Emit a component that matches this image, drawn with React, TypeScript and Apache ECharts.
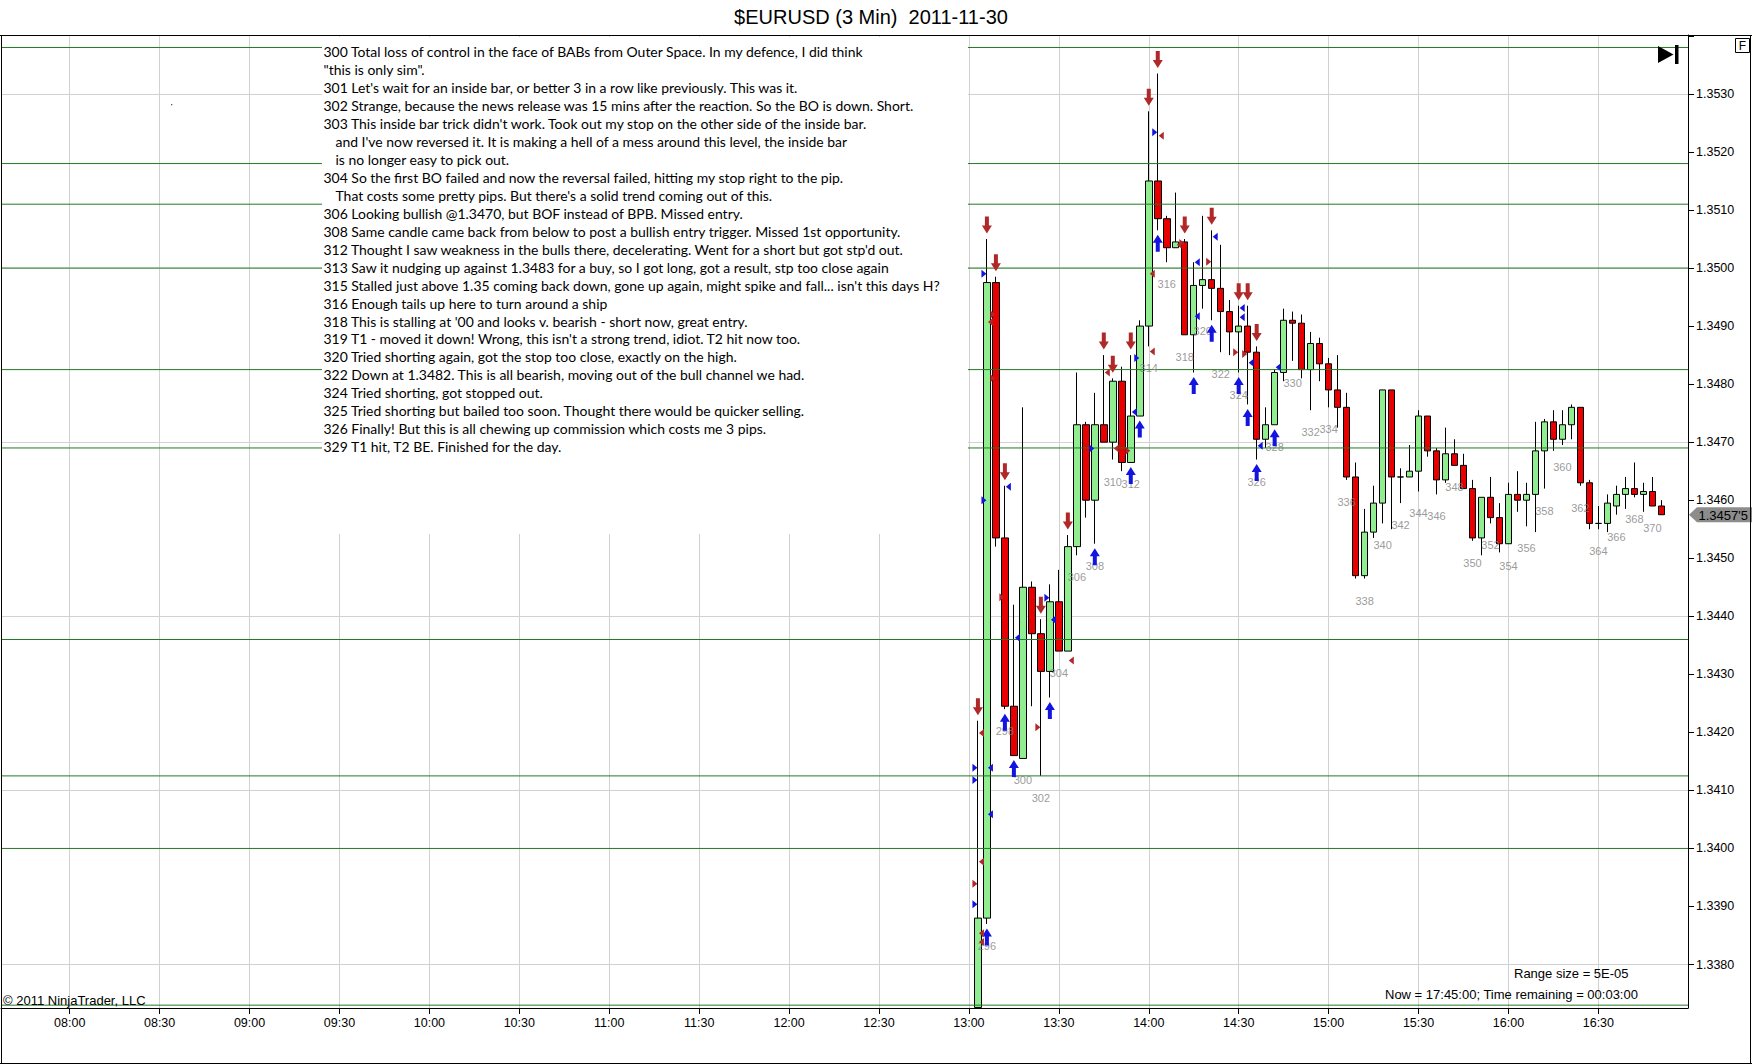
import React, { useEffect, useRef } from "react";
import * as echarts from "echarts";

// ---------- DATA ----------
const barNumbers = [
  295, 296, 297, 298, 299, 300, 301, 302, 303, 304, 305, 306, 307, 308, 309, 310, 311, 312, 313, 314,
  315, 316, 317, 318, 319, 320, 321, 322, 323, 324, 325, 326, 327, 328, 329, 330, 331, 332, 333, 334,
  335, 336, 337, 338, 339, 340, 341, 342, 343, 344, 345, 346, 347, 348, 349, 350, 351, 352, 353, 354,
  355, 356, 357, 358, 359, 360, 361, 362, 363, 364, 365, 366, 367, 368, 369, 370, 371,
];
const barTimes = [
  "13:03", "13:06", "13:09", "13:12", "13:15", "13:18", "13:21", "13:24", "13:27", "13:30",
  "13:33", "13:36", "13:39", "13:42", "13:45", "13:48", "13:51", "13:54", "13:57", "14:00",
  "14:03", "14:06", "14:09", "14:12", "14:15", "14:18", "14:21", "14:24", "14:27", "14:30",
  "14:33", "14:36", "14:39", "14:42", "14:45", "14:48", "14:51", "14:54", "14:57", "15:00",
  "15:03", "15:06", "15:09", "15:12", "15:15", "15:18", "15:21", "15:24", "15:27", "15:30",
  "15:33", "15:36", "15:39", "15:42", "15:45", "15:48", "15:51", "15:54", "15:57", "16:00",
  "16:03", "16:06", "16:09", "16:12", "16:15", "16:18", "16:21", "16:24", "16:27", "16:30",
  "16:33", "16:36", "16:39", "16:42", "16:45", "16:48", "16:51",
];
// the first bar opens below the visible range; its open/low are set at the visible bottom
const opens = [
  1.33726, 1.3388, 1.34975, 1.34535, 1.34245, 1.34155, 1.3445, 1.3437, 1.34305, 1.34425,
  1.3434, 1.3452, 1.3473, 1.346, 1.3473, 1.347, 1.34805, 1.34665, 1.34745, 1.349,
  1.3515, 1.35085, 1.35035, 1.35045, 1.34885, 1.3497, 1.3498, 1.34965, 1.34925, 1.3489,
  1.349, 1.34855, 1.34705, 1.3473, 1.3482, 1.3491, 1.34905, 1.34825, 1.3487, 1.34835,
  1.3479, 1.3476, 1.3464, 1.3447, 1.34545, 1.34595, 1.3479, 1.3464, 1.3464, 1.3465,
  1.34745, 1.34685, 1.34635, 1.3468, 1.3466, 1.3462, 1.34535, 1.34605, 1.3457, 1.34525,
  1.3461, 1.346, 1.3461, 1.34685, 1.34735, 1.34705, 1.3473, 1.3476, 1.3463, 1.3456,
  1.3456, 1.3459, 1.3461, 1.3462, 1.3461, 1.34615, 1.3459,
];
const highs = [
  1.3422, 1.3505, 1.34985, 1.34625, 1.3442, 1.3476, 1.3446, 1.34395, 1.34455, 1.3448,
  1.3454, 1.3482, 1.34735, 1.34785, 1.3485, 1.3481, 1.3483, 1.3485, 1.3491, 1.3527,
  1.35335, 1.3509, 1.3513, 1.3505, 1.3501, 1.3509, 1.35065, 1.3504, 1.34945, 1.34935,
  1.34935, 1.34865, 1.3476, 1.34825, 1.3493, 1.34925, 1.3492, 1.3489, 1.3488, 1.34845,
  1.3485, 1.34785, 1.34665, 1.34585, 1.34625, 1.3479, 1.3479, 1.34655, 1.34695, 1.34755,
  1.34745, 1.3469, 1.34725, 1.34705, 1.3468, 1.34635, 1.34605, 1.3464, 1.34595, 1.3463,
  1.3465, 1.3463, 1.34735, 1.3474, 1.34755, 1.34755, 1.34765, 1.3476, 1.34635, 1.3459,
  1.3461, 1.34625, 1.3464, 1.34665, 1.3463, 1.3464, 1.346,
];
const lows = [
  1.33726, 1.3387, 1.3452, 1.3424, 1.3416, 1.34155, 1.34245, 1.34125, 1.3426, 1.3434,
  1.3434, 1.34505, 1.3457, 1.34525, 1.347, 1.3467, 1.3465, 1.34665, 1.34745, 1.34865,
  1.35065, 1.3501, 1.35035, 1.34885, 1.3482, 1.3493, 1.3491, 1.34855, 1.3485, 1.3482,
  1.34765, 1.3467, 1.3469, 1.3473, 1.34805, 1.3484, 1.3481, 1.34755, 1.34805, 1.3476,
  1.34725, 1.34635, 1.34465, 1.34465, 1.34535, 1.3456, 1.3455, 1.34595, 1.3464, 1.34615,
  1.34675, 1.3461, 1.3463, 1.3466, 1.3462, 1.3453, 1.34505, 1.3456, 1.3451, 1.34525,
  1.3458, 1.34555, 1.34545, 1.3462, 1.34685, 1.34695, 1.34705, 1.34625, 1.3455, 1.3455,
  1.34545, 1.34575, 1.34585, 1.34605, 1.3458, 1.3459, 1.34575,
];
const closes = [
  1.3388, 1.34975, 1.34535, 1.34245, 1.3416, 1.3445, 1.3437, 1.34305, 1.34425, 1.3434,
  1.3452, 1.3473, 1.346, 1.3473, 1.347, 1.34805, 1.34665, 1.34745, 1.349, 1.3515,
  1.35085, 1.35035, 1.35045, 1.34885, 1.3497, 1.3498, 1.34965, 1.34925, 1.3489, 1.349,
  1.34855, 1.34705, 1.3473, 1.3482, 1.3491, 1.34905, 1.34825, 1.3487, 1.34835, 1.3479,
  1.3476, 1.3464, 1.3447, 1.34545, 1.34595, 1.3479, 1.3464, 1.3464, 1.3465, 1.34745,
  1.34685, 1.34635, 1.3468, 1.3466, 1.3462, 1.34535, 1.34605, 1.3457, 1.34525, 1.3461,
  1.346, 1.3461, 1.34685, 1.34735, 1.34705, 1.3473, 1.3476, 1.3463, 1.3456, 1.3456,
  1.34595, 1.3461, 1.3462, 1.3461, 1.34615, 1.3459, 1.34575,
];

// horizontal lines drawn on the chart
const levelLines = [1.3538, 1.3518, 1.3511, 1.35, 1.34825, 1.3469, 1.3436, 1.34125, 1.34, 1.3373];

// signal arrows
const redArrowBars = [295, 296, 297, 298, 302, 305, 309, 310, 312, 314, 315, 318, 321, 324, 325, 326];
const blueArrowBars = [296, 298, 299, 303, 308, 312, 313, 315, 319, 321, 324, 325, 326, 328];

// execution markers [bar, price]
const blueRightMarks = [
  [296, 1.3499], [296, 1.346], [295, 1.34139], [295, 1.34118], [295, 1.33904],
  [303, 1.34432], [308, 1.34689], [313, 1.34845], [315, 1.35234],
];
const blueLeftMarks = [
  [296, 1.34139], [296, 1.34059], [298, 1.34623], [299, 1.34363], [303, 1.34394],
  [312, 1.34752], [319, 1.3501], [319, 1.34917], [321, 1.35054], [324, 1.34931],
  [324, 1.34915], [325, 1.34837], [326, 1.34694], [328, 1.34829],
];
const redRightMarks = [
  [297, 1.3492], [297, 1.3481], [295, 1.33939], [298, 1.34433], [302, 1.34209],
  [312, 1.34685], [318, 1.35043], [321, 1.35011], [324, 1.34855], [325, 1.34852],
];
const redLeftMarks = [
  [295, 1.34199], [295, 1.33977], [295, 1.33854], [295, 1.33839], [296, 1.34907],
  [305, 1.34324], [309, 1.3482], [310, 1.34689], [314, 1.34856], [314, 1.3499],
  [315, 1.35228], [317, 1.3504],
];

// bars carrying a number label
const labelledBars = [
  296, 298, 300, 302, 304, 306, 308, 310, 312, 314, 316, 318, 320, 322, 324, 326, 328, 330, 332,
  334, 336, 338, 340, 342, 344, 346, 348, 350, 352, 354, 356, 358, 360, 362, 364, 366, 368, 370,
];

const noteLines = [
  "300 Total loss of control in the face of BABs from Outer Space. In my defence, I did think",
  "\"this is only sim\".",
  "301 Let's wait for an inside bar, or better 3 in a row like previously. This was it.",
  "302 Strange, because the news release was 15 mins after the reaction. So the BO is down. Short.",
  "303 This inside bar trick didn't work. Took out my stop on the other side of the inside bar.",
  "and I've now reversed it. It is making a hell of a mess around this level, the inside bar",
  "is no longer easy to pick out.",
  "304 So the first BO failed and now the reversal failed, hitting my stop right to the pip.",
  "That costs some pretty pips. But there's a solid trend coming out of this.",
  "306 Looking bullish @1.3470, but BOF instead of BPB. Missed entry.",
  "308 Same candle came back from below to post a bullish entry trigger. Missed 1st opportunity.",
  "312 Thought I saw weakness in the bulls there, decelerating. Went for a short but got stp'd out.",
  "313 Saw it nudging up against 1.3483 for a buy, so I got long, got a result, stp too close again",
  "315 Stalled just above 1.35 coming back down, gone up again, might spike and fall... isn't this days H?",
  "316 Enough tails up here to turn around a ship",
  "318 This is stalling at '00 and looks v. bearish - short now, great entry.",
  "319 T1 - moved it down! Wrong, this isn't a strong trend, idiot. T2 hit now too.",
  "320 Tried shorting again, got the stop too close, exactly on the high.",
  "322 Down at 1.3482. This is all bearish, moving out of the bull channel we had.",
  "324 Tried shorting, got stopped out.",
  "325 Tried shorting but bailed too soon. Thought there would be quicker selling.",
  "326 Finally! But this is all chewing up commission which costs me 3 pips.",
  "329 T1 hit, T2 BE. Finished for the day.",
];
const indentedNotes = [5, 6, 8];

const titleText = "$EURUSD (3 Min)  2011-11-30";
const copyrightText = "\u00a9 2011 NinjaTrader, LLC";
const rangeText = "Range size = 5E-05";
const nowText = "Now = 17:45:00; Time remaining = 00:03:00";
const lastPriceText = "1.3457'5";

// ---------- HELPERS ----------
const toMin = (s: string) => {
  const [h, m] = s.split(":").map(Number);
  return h * 60 + m;
};
const pad = (n: number) => (n < 10 ? "0" + n : "" + n);
const barIdx = (b: number) => barNumbers.indexOf(b);
const barT = (b: number) => toMin(barTimes[barIdx(b)]);

const ARROW_DOWN = "path://M3,0L7,0L7,9L10,9L5,17L0,9L3,9Z";
const ARROW_UP = "path://M5,0L10,8L7,8L7,17L3,17L3,8L0,8Z";
const TRI_R = "path://M0,0L6,4L0,8Z";
const TRI_L = "path://M6,0L0,4L6,8Z";

const AXIS_FONT = "'Liberation Sans', Arial, sans-serif";
const RED_MARK = "#B02828";
const BLUE_MARK = "#1414E0";
const X_MIN = 457.08;
const X_MAX = 1019.9;

export default function App() {
  const ref = useRef<HTMLDivElement>(null);

  useEffect(() => {
    document.body.style.margin = "0";
    if (!ref.current) return;
    const chart = echarts.init(ref.current, undefined, { renderer: "svg" });

    const candleData = barTimes.map((t, i) => [toMin(t), opens[i], closes[i], lows[i], highs[i]]);
    const scatterBase = {
      type: "scatter" as const,
      silent: true,
      animation: false,
      clip: false,
      xAxisIndex: 0,
      yAxisIndex: 0,
    };
    const markSeries = (marks: number[][], symbol: string, color: string, dx: number) => ({
      ...scatterBase,
      symbol,
      symbolSize: [5, 8],
      symbolOffset: [dx, 0],
      itemStyle: { color, opacity: 1 },
      z: 6,
      data: marks.map(([b, p]) => [barT(b), p]),
    });

    const yMin = 1.337251;
    const yMax = 1.354015;

    const levelSeries = levelLines.map((v) => ({
      type: "line" as const,
      silent: true,
      animation: false,
      xAxisIndex: 0,
      yAxisIndex: 0,
      symbol: "none",
      z: 4,
      lineStyle: { color: "#237A23", width: 1 },
      data: [
        [X_MIN, v],
        [X_MAX, v],
      ],
    }));

    chart.setOption({
      animation: false,
      backgroundColor: "#ffffff",
      grid: { left: 1, right: 64, top: 35, bottom: 56, containLabel: false },
      xAxis: {
        type: "value",
        min: X_MIN,
        max: X_MAX,
        minInterval: 30,
        maxInterval: 30,
        splitNumber: 19,
        axisLine: { show: true, onZero: false, lineStyle: { color: "#000", width: 1 } },
        axisTick: { show: true, length: 6, lineStyle: { color: "#000" } },
        axisLabel: {
          color: "#000",
          fontSize: 12.5,
          fontFamily: AXIS_FONT,
          margin: 8,
          showMinLabel: false,
          showMaxLabel: false,
          formatter: (v: number) => {
            if (Math.abs(v / 30 - Math.round(v / 30)) > 1e-6) return "";
            const h = Math.floor(v / 60);
            const m = Math.round(v - h * 60);
            return pad(h) + ":" + pad(m);
          },
        },
        splitLine: { show: true, lineStyle: { color: "#D2D2D2", width: 1 } },
      },
      yAxis: [
        {
          type: "value",
          position: "right",
          min: yMin,
          max: yMax,
          minInterval: 0.001,
          maxInterval: 0.001,
          splitNumber: 17,
          axisLine: { show: true, lineStyle: { color: "#000", width: 1 } },
          axisTick: { show: true, length: 6, lineStyle: { color: "#000" } },
          axisLabel: {
            color: "#000",
            fontSize: 12.5,
            fontFamily: AXIS_FONT,
            margin: 8,
            showMinLabel: false,
            showMaxLabel: false,
            formatter: (v: number) => (v < 1.3375 || v > 1.3535 ? "" : v.toFixed(4)),
          },
          splitLine: { show: false },
        },
        {
          type: "value",
          position: "right",
          min: yMin,
          max: yMax,
          minInterval: 0.003,
          maxInterval: 0.003,
          splitNumber: 5,
          axisLine: { show: false },
          axisTick: { show: false },
          axisLabel: { show: false },
          splitLine: { show: true, lineStyle: { color: "#D2D2D2", width: 1 } },
        },
      ],
      series: [
        {
          type: "candlestick",
          name: "EURUSD",
          xAxisIndex: 0,
          yAxisIndex: 0,
          data: candleData,
          encode: { x: 0, y: [1, 2, 3, 4] },
          barWidth: 7,
          clip: true,
          silent: true,
          z: 3,
          itemStyle: {
            color: "#90EE90",
            color0: "#E80000",
            borderColor: "#000",
            borderColor0: "#000",
            borderColorDoji: "#000",
            borderWidth: 1,
          },
        },
        ...levelSeries,
        {
          ...scatterBase,
          symbol: ARROW_DOWN,
          symbolSize: [10, 17],
          symbolOffset: [0, -14],
          itemStyle: { color: RED_MARK, opacity: 1 },
          z: 5,
          data: redArrowBars.map((b) => [barT(b), highs[barIdx(b)]]),
        },
        {
          ...scatterBase,
          symbol: ARROW_UP,
          symbolSize: [10, 17],
          symbolOffset: [0, 13],
          itemStyle: { color: BLUE_MARK, opacity: 1 },
          z: 5,
          data: blueArrowBars.map((b) => [barT(b), lows[barIdx(b)]]),
        },
        markSeries(blueRightMarks, TRI_R, BLUE_MARK, -3),
        markSeries(blueLeftMarks, TRI_L, BLUE_MARK, 3.5),
        markSeries(redRightMarks, TRI_R, RED_MARK, -3),
        markSeries(redLeftMarks, TRI_L, RED_MARK, 3.5),
        {
          ...scatterBase,
          symbol: "circle",
          symbolSize: 1,
          z: 4,
          itemStyle: { color: "rgba(255,255,255,0)" },
          label: {
            show: true,
            position: "bottom",
            distance: 16,
            color: "#808080",
            fontSize: 11,
            fontFamily: AXIS_FONT,
            formatter: (p: any) => String(p.value[2]),
          },
          labelLayout: { hideOverlap: false },
          data: labelledBars.map((b) => [barT(b), lows[barIdx(b)], b]),
        },
      ],
    });

    // note block horizontal fit
    let sx = 1;
    const noteFont = "13.5px Lato";
    try {
      const ctx = document.createElement("canvas").getContext("2d");
      if (ctx) {
        ctx.font = noteFont;
        const w = ctx.measureText(noteLines[13]).width;
        if (w > 0) sx = 617 / w;
      }
    } catch (e) {
      sx = 1;
    }

    const yLast = chart.convertToPixel({ yAxisIndex: 0 }, closes[closes.length - 1]) as number;

    const txt = (text: string, x: number, y: number, font: string, extra: any = {}) => ({
      type: "text",
      x,
      y,
      z: 120,
      silent: true,
      style: { text, fill: "#000", font, verticalAlign: "middle", align: "left", ...extra },
    });
    const ln = (x1: number, y1: number, x2: number, y2: number) => ({
      type: "line",
      z: 130,
      silent: true,
      shape: { x1, y1, x2, y2 },
      style: { stroke: "#000", lineWidth: 1 },
    });

    const graphics: any[] = [
      // note box
      {
        type: "rect",
        z: 100,
        silent: true,
        shape: { x: 322, y: 37, width: 646, height: 497 },
        style: { fill: "#ffffff" },
      },
      {
        type: "group",
        x: 323.5,
        y: 0,
        scaleX: sx,
        z: 101,
        silent: true,
        children: noteLines.map((t, i) => ({
          type: "text",
          x: indentedNotes.includes(i) ? 12 / sx : 0,
          y: 51.4 + i * 17.98,
          z: 101,
          style: { text: t, fill: "#000", font: noteFont, verticalAlign: "middle", align: "left" },
        })),
      },
      // title
      txt(titleText, 871, 17, "20px 'Liberation Sans', Arial, sans-serif", { align: "center" }),
      // frame lines
      ln(0, 35.5, 1752, 35.5),
      ln(1.5, 35.5, 1.5, 1063.5),
      ln(1750.5, 35.5, 1750.5, 1063.5),
      ln(0, 1063.5, 1752, 1063.5),
      // end-of-chart icon
      {
        type: "polygon",
        z: 120,
        silent: true,
        shape: { points: [[1658, 46], [1673.5, 54.5], [1658, 63]] },
        style: { fill: "#000" },
      },
      {
        type: "rect",
        z: 120,
        silent: true,
        shape: { x: 1675, y: 45, width: 3.5, height: 19 },
        style: { fill: "#000" },
      },
      // F box
      {
        type: "rect",
        z: 120,
        silent: true,
        shape: { x: 1735.5, y: 38.5, width: 14, height: 14 },
        style: { fill: "#fff", stroke: "#000", lineWidth: 1 },
      },
      txt("F", 1742.5, 46, "12px 'Liberation Sans', Arial, sans-serif", { align: "center" }),
      // tiny dot
      { type: "rect", z: 120, silent: true, shape: { x: 171, y: 104, width: 1.3, height: 1.3 }, style: { fill: "#555" } },
      // bottom texts
      txt(copyrightText, 3, 1000, "13px 'Liberation Sans', Arial, sans-serif"),
      txt(rangeText, 1514, 973, "13px 'Liberation Sans', Arial, sans-serif"),
      txt(nowText, 1385, 994, "13px 'Liberation Sans', Arial, sans-serif"),
      // last price marker
      {
        type: "polygon",
        z: 120,
        silent: true,
        shape: {
          points: [
            [1689, yLast],
            [1697, yLast - 7.5],
            [1752, yLast - 7.5],
            [1752, yLast + 7.5],
            [1697, yLast + 7.5],
          ],
        },
        style: { fill: "#8C8C8C" },
      },
      txt(lastPriceText, 1698.5, yLast + 0.5, "13px 'Liberation Sans', Arial, sans-serif"),
    ];

    chart.setOption({ graphic: graphics });

    return () => {
      chart.dispose();
    };
  }, []);

  return <div ref={ref} style={{ width: 1752, height: 1064, overflow: "hidden" }} />;
}
